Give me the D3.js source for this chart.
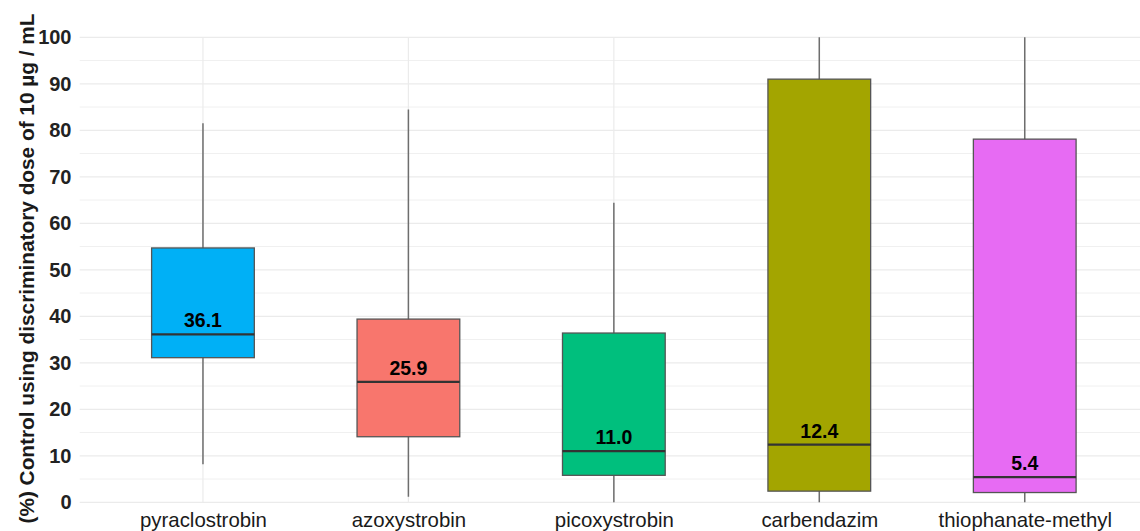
<!DOCTYPE html>
<html>
<head>
<meta charset="utf-8">
<script src="https://cdn.jsdelivr.net/npm/d3@7"></script>
<style>
  html, body { margin: 0; padding: 0; background: #fff; }
  svg { display: block; }
  text { font-family: "Liberation Sans", Arial, sans-serif; }
</style>
</head>
<body>
<svg id="chart" width="1140" height="531"></svg>
<script>
// Fungicide groups and their box-plot statistics (% control)
const fungicides = ["pyraclostrobin", "azoxystrobin", "picoxystrobin", "carbendazim", "thiophanate-methyl"];
const whiskerLow  = [8.2, 1.2, 0.0, 0.0, 0.0];
const q1          = [31.1, 14.1, 5.8, 2.4, 2.1];
const medians     = [36.1, 25.9, 11.0, 12.4, 5.4];
const q3          = [54.7, 39.4, 36.4, 91.0, 78.1];
const whiskerHigh = [81.5, 84.5, 64.4, 100.0, 100.0];
const fillColors  = ["#00B0F6", "#F8766D", "#00BF7D", "#A3A500", "#E76BF3"];
const yTicks      = [0, 10, 20, 30, 40, 50, 60, 70, 80, 90, 100];
const yMinor      = [5, 15, 25, 35, 45, 55, 65, 75, 85, 95];

const rows = fungicides.map((name, i) => ({
  name, lo: whiskerLow[i], q1: q1[i], med: medians[i], q3: q3[i], hi: whiskerHigh[i], fill: fillColors[i]
}));

const svg = d3.select("#chart");
const panel = { left: 79.7, right: 1148, top: 37.3, bottom: 502.3 };

// Discrete axis with 0.6-band padding on either side
const step = (panel.right - panel.left) / (fungicides.length + 0.2);
const x = d3.scalePoint().domain(fungicides)
  .range([panel.left + 0.6 * step, panel.right - 0.6 * step]);
const boxW = step * 0.5;

const y = d3.scaleLinear().domain([0, 100]).range([panel.bottom, panel.top]);

const grid = svg.append("g");
grid.selectAll("line.minor").data(yMinor).join("line")
  .attr("x1", panel.left).attr("x2", 1140)
  .attr("y1", d => y(d)).attr("y2", d => y(d))
  .attr("stroke", "#f0f0f0").attr("stroke-width", 1);
grid.selectAll("line.major").data(yTicks).join("line")
  .attr("x1", panel.left).attr("x2", 1140)
  .attr("y1", d => y(d)).attr("y2", d => y(d))
  .attr("stroke", "#ebebeb").attr("stroke-width", 1.2);
grid.selectAll("line.vmajor").data(fungicides).join("line")
  .attr("x1", d => x(d)).attr("x2", d => x(d))
  .attr("y1", panel.top).attr("y2", panel.bottom)
  .attr("stroke", "#ebebeb").attr("stroke-width", 1.2);

// Y axis labels
const yAxis = d3.axisLeft(y).tickValues(yTicks).tickSize(0).tickPadding(0);
const yg = svg.append("g").attr("transform", `translate(71.5,0)`).call(yAxis);
yg.select(".domain").remove();
yg.selectAll("text")
  .attr("font-size", 20).attr("font-weight", "bold").attr("fill", "#222")
  .attr("font-family", "Liberation Sans, Arial, sans-serif");

// X axis labels
const xAxis = d3.axisBottom(x).tickSize(0).tickPadding(0);
const xg = svg.append("g").attr("transform", `translate(0,${panel.bottom + 10})`).call(xAxis);
xg.select(".domain").remove();
xg.selectAll("text")
  .attr("font-size", 20.4).attr("fill", "#1a1a1a")
  .attr("font-family", "Liberation Sans, Arial, sans-serif");

// Y axis title
svg.append("text")
  .attr("transform", `translate(34,268.5) rotate(-90)`)
  .attr("text-anchor", "middle")
  .attr("font-size", 20.8).attr("font-weight", "bold").attr("fill", "#1a1a1a")
  .text("(%) Control using discriminatory dose of 10 µg / mL");

// Boxes
const boxes = svg.append("g").selectAll("g").data(rows).join("g");
boxes.append("line")
  .attr("x1", d => x(d.name)).attr("x2", d => x(d.name))
  .attr("y1", d => y(d.hi)).attr("y2", d => y(d.lo))
  .attr("stroke", "#6e6e6e").attr("stroke-width", 1.5);
boxes.append("rect")
  .attr("x", d => x(d.name) - boxW / 2).attr("width", boxW)
  .attr("y", d => y(d.q3)).attr("height", d => y(d.q1) - y(d.q3))
  .attr("fill", d => d.fill).attr("stroke", "#555").attr("stroke-width", 1.3);
boxes.append("line")
  .attr("x1", d => x(d.name) - boxW / 2).attr("x2", d => x(d.name) + boxW / 2)
  .attr("y1", d => y(d.med)).attr("y2", d => y(d.med))
  .attr("stroke", "#333").attr("stroke-width", 2.2);
boxes.append("text")
  .attr("x", d => x(d.name)).attr("y", d => y(d.med) - 7)
  .attr("text-anchor", "middle")
  .attr("font-size", 19.5).attr("font-weight", "bold").attr("fill", "#000")
  .text(d => d.med.toFixed(1));
</script>
</body>
</html>
